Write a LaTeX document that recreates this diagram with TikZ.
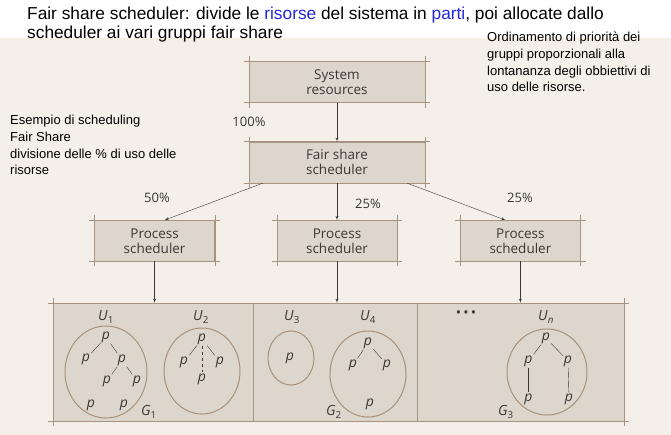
\documentclass[tikz,border=0pt]{standalone}
\usepackage{fontspec}
\setmainfont{Liberation Sans}
\newfontfamily\diagfont{Open Sans}
\usetikzlibrary{shapes,arrows,positioning}
\definecolor{paper}{HTML}{F4EFE8}
\definecolor{boxfill}{HTML}{DDD6CC}
\definecolor{boxedge}{HTML}{A69382}
\definecolor{ringcol}{HTML}{A8917A}
\definecolor{inkcol}{HTML}{3A3835}
\definecolor{linkblue}{HTML}{2626E0}
\tikzstyle{marks} = [append after command={
    ([xshift=-5pt]\tikzlastnode.north west) edge[draw=boxedge] ([xshift=5pt]\tikzlastnode.north east)
    ([xshift=-5pt]\tikzlastnode.south west) edge[draw=boxedge] ([xshift=5pt]\tikzlastnode.south east)
    ([yshift=5pt]\tikzlastnode.north west) edge[draw=boxedge] ([yshift=-5pt]\tikzlastnode.south west)
    ([yshift=5pt]\tikzlastnode.north east) edge[draw=boxedge] ([yshift=-5pt]\tikzlastnode.south east)}]
\tikzstyle{sched} = [rectangle, draw=boxedge, fill=boxfill, marks, align=center, text=inkcol,
    font=\diagfont\fontsize{13.5}{15}\selectfont, minimum height=41pt, inner sep=0pt]
\tikzstyle{grp} = [rectangle, draw=boxedge, fill=boxfill, minimum height=118pt, inner sep=0pt]
\tikzstyle{line} = [draw=inkcol, -latex']
\tikzstyle{pct} = [font=\diagfont\fontsize{13}{14}\selectfont, text=inkcol]
\tikzstyle{ring} = [draw=ringcol, ellipse, line width=1pt, inner sep=0pt]
\tikzstyle{proc} = [font=\diagfont\itshape\fontsize{14}{14}\selectfont, text=inkcol, inner sep=1pt]
\tikzstyle{user} = [font=\diagfont\fontsize{14}{14}\selectfont, text=inkcol]
\tikzstyle{note} = [anchor=north west, align=left, inner sep=0pt, font=\fontsize{13}{16.7}\selectfont]

\begin{document}
\begin{tikzpicture}[x=1pt,y=-1pt]
  \useasboundingbox (0,0) rectangle (671,435);
  \fill[paper] (0,38) rectangle (671,435);

  % titolo e note
  \node [anchor=north west, align=left, inner sep=0pt, font=\fontsize{17.3}{19}\selectfont] (titolo) at (27,7)
    {Fair share scheduler: divide le \textcolor{linkblue}{risorse} del sistema in \textcolor{linkblue}{parti}, poi allocate dallo\\scheduler ai vari gruppi fair share};
  \node [note] (ordine) at (487,32) {Ordinamento di priorità dei\\gruppi proporzionali alla\\lontananza degli obbiettivi di\\uso delle risorse.};
  \node [note] (esempio) at (10,115) {Esempio di scheduling\\Fair Share\\divisione delle \% di uso delle\\risorse};

  % schedulatori
  \node [sched, minimum width=176pt] (sysres) at (337,82) {System\\resources};
  \node [sched, minimum width=176pt, below=39pt of sysres] (fss) {Fair share\\scheduler};
  \node [sched, minimum width=120pt, below=37pt of fss] (ps2) {Process\\scheduler};
  \node [sched, minimum width=120pt, left=62pt of ps2] (ps1) {Process\\scheduler};
  \node [sched, minimum width=120pt, right=63pt of ps2] (ps3) {Process\\scheduler};

  % gruppi
  \node [grp, minimum width=200pt] (g1) at (153,362) {};
  \node [grp, minimum width=164pt] (g2) at (335,362) {};
  \node [grp, minimum width=207pt] (g3) at (520.5,362) {};
  \draw [boxedge] ([xshift=-5pt]g1.north west) -- ([xshift=5pt]g3.north east);
  \draw [boxedge] ([xshift=-5pt]g1.south west) -- ([xshift=5pt]g3.south east);
  \draw [boxedge] ([yshift=5pt]g1.north west) -- ([yshift=-5pt]g1.south west);
  \draw [boxedge] ([yshift=5pt]g3.north east) -- ([yshift=-5pt]g3.south east);

  \path [line] (sysres) -- (fss) node [pct, pos=0.5, left=68pt] {100\%};
  \path [line] ([xshift=-74pt]fss.south) -- ([xshift=10pt]ps1.north);
  \path [line] (fss) -- (ps2);
  \path [line] ([xshift=70pt]fss.south) -- ([xshift=-15pt]ps3.north);
  \node [pct] (p50) at (157,198) {50\%};
  \node [pct] (p25a) at (368,204) {25\%};
  \node [pct] (p25b) at (520,198) {25\%};
  \path [line] (ps1) -- (ps1 |- g1.north);
  \path [line] (ps2) -- (ps2 |- g2.north);
  \path [line] (ps3) -- (ps3 |- g3.north);

  % G1
  \node [ring, minimum width=82pt, minimum height=92pt] (e1) at (106,372) {};
  \node [ring, minimum width=76pt, minimum height=86pt] (e2) at (202,371) {};
  \node [user] (u1) at (106,317) {\textit{U}\textsubscript{1}};
  \node [user] (u2) at (201,317) {\textit{U}\textsubscript{2}};
  \node [proc] (a1) at (106,337) {p};
  \node [proc] (a2) at (86,359) {p};
  \node [proc] (a3) at (122,360) {p};
  \node [proc] (a4) at (107,381) {p};
  \node [proc] (a5) at (137,381) {p};
  \node [proc] (a6) at (91,405) {p};
  \node [proc] (a7) at (124,405) {p};
  \draw [inkcol] (a1) -- (a2);
  \draw [inkcol] (a1) -- (a3);
  \draw [inkcol] (a3) -- (a4);
  \draw [inkcol] (a3) -- (a5);
  \node [proc] (b1) at (202,339) {p};
  \node [proc] (b2) at (184,362) {p};
  \node [proc] (b3) at (220,362) {p};
  \node [proc] (b4) at (202,379) {p};
  \draw [inkcol] (b1) -- (b2);
  \draw [inkcol] (b1) -- (b3);
  \draw [inkcol, dashed] (b1) -- (b4);
  \node [user] (lg1) at (149,412) {\textit{G}\textsubscript{1}};

  % G2
  \node [ring, minimum width=46pt, minimum height=54pt] (e3) at (291,358) {};
  \node [ring, minimum width=76pt, minimum height=86pt] (e4) at (368,374) {};
  \node [user] (u3) at (292,317) {\textit{U}\textsubscript{3}};
  \node [user] (u4) at (368,317) {\textit{U}\textsubscript{4}};
  \node [proc] (c1) at (290,358) {p};
  \node [proc] (d1) at (368,343) {p};
  \node [proc] (d2) at (353,365) {p};
  \node [proc] (d3) at (387,365) {p};
  \node [proc] (d4) at (370,404) {p};
  \draw [inkcol] (d1) -- (d2);
  \draw [inkcol] (d1) -- (d3);
  \node [user] (lg2) at (334,412) {\textit{G}\textsubscript{2}};

  % G3
  \node [user] (dots) at (466,314) {\textbullet\,\textbullet\,\textbullet};
  \node [ring, minimum width=80pt, minimum height=86pt] (e5) at (547,372) {};
  \node [user] (un) at (546,317) {\textit{U}\textsubscript{\textit{n}}};
  \node [proc] (f1) at (546,338) {p};
  \node [proc] (f2) at (528.5,361) {p};
  \node [proc] (f3) at (568,361) {p};
  \node [proc] (f4) at (528.5,399) {p};
  \node [proc] (f5) at (569,399) {p};
  \draw [inkcol] (f1) -- (f2);
  \draw [inkcol] (f1) -- (f3);
  \draw [inkcol] (f2) -- (f4);
  \draw [inkcol] (f3) -- (f5);
  \node [user] (lg3) at (506,412) {\textit{G}\textsubscript{3}};
\end{tikzpicture}
\end{document}
